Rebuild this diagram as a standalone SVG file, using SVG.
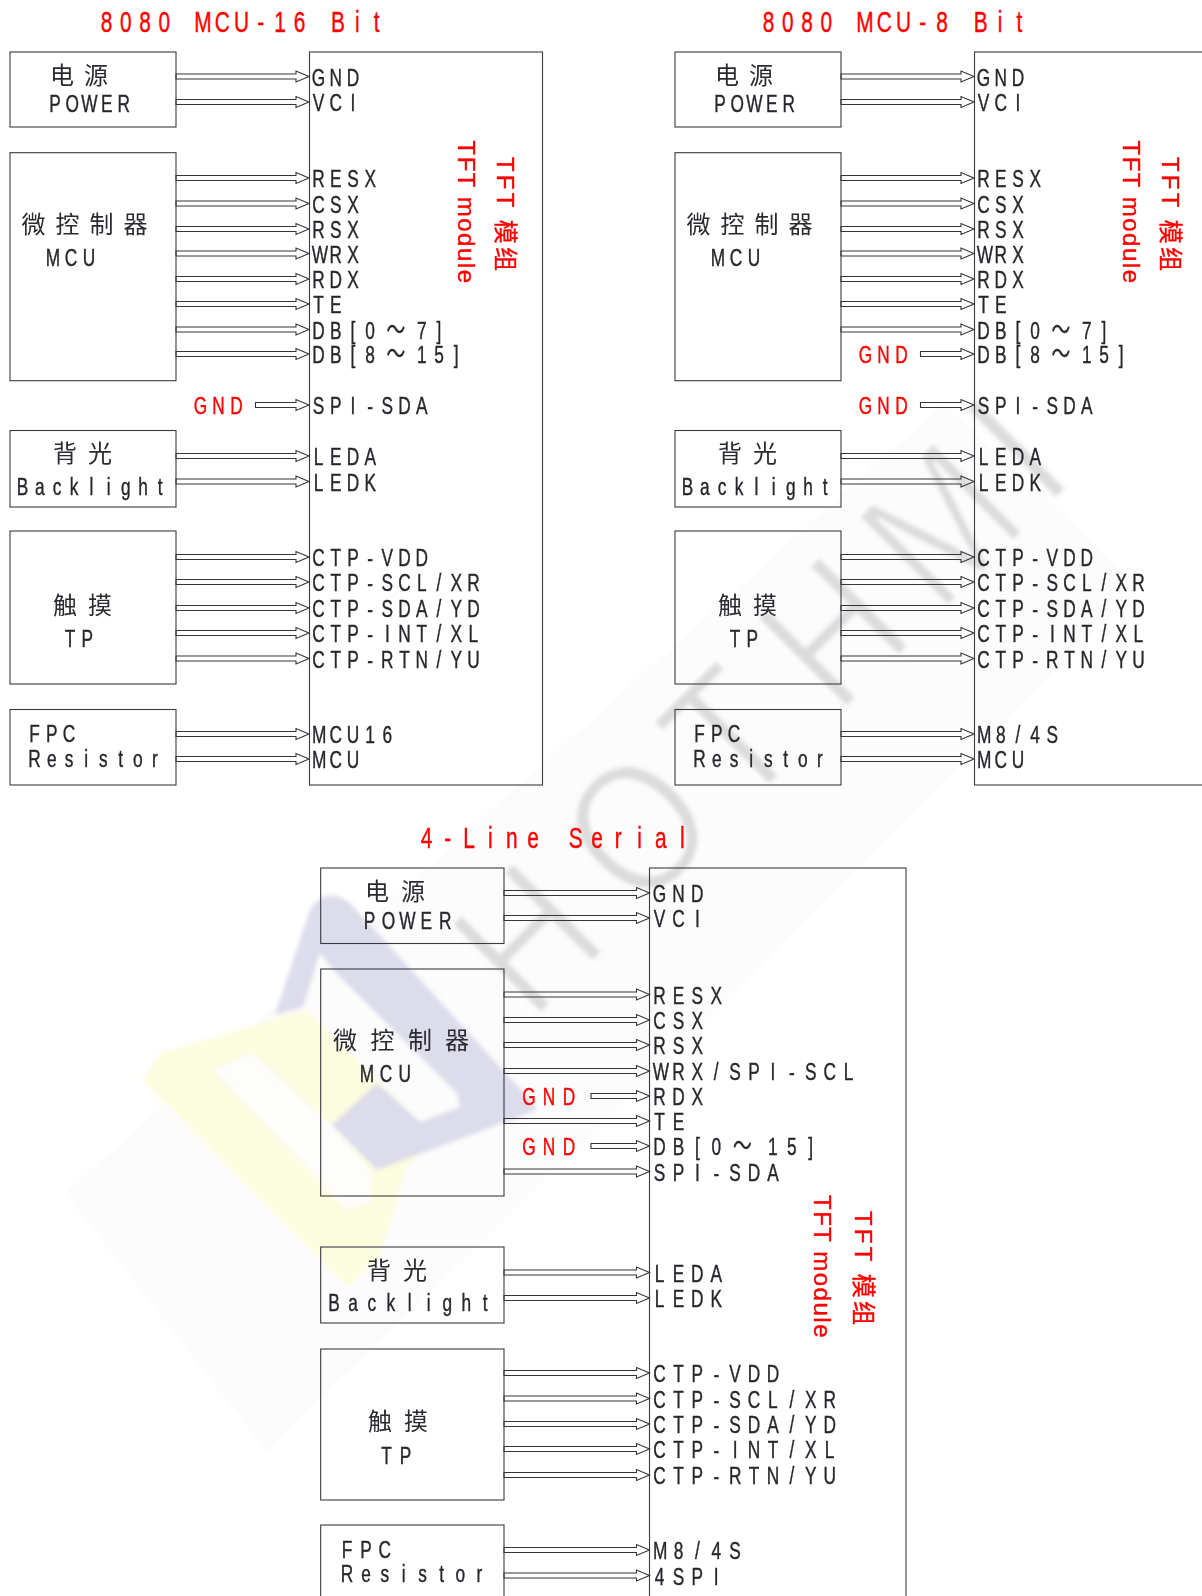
<svg xmlns="http://www.w3.org/2000/svg" width="1202" height="1596" viewBox="0 0 1202 1596">
<defs><filter id="soft" x="-5%" y="-5%" width="110%" height="110%"><feGaussianBlur stdDeviation="2"/></filter></defs>
<style>
.box{fill:none;stroke:#3a3a42;stroke-width:1.1}
.arr{fill:none;stroke:#34343a;stroke-width:1.1}
text{font-family:"Liberation Sans","Noto Sans CJK SC",sans-serif;font-size:24px;fill:#26262c;stroke:#26262c;stroke-width:.4;text-anchor:middle}
.cn{font-family:"Noto Sans CJK SC",sans-serif;font-size:24px;text-anchor:start;fill:#2a2a30;stroke:none}
.red{fill:#ff0000;stroke:#ff0000}
.title{font-size:29px;fill:#ff0000;stroke:#ff0000}
.side{font-size:24px;fill:#ff0000;stroke:#ff0000;text-anchor:start}
.wm{font-size:185px;fill:#dcdcdc;stroke:#fcfcfd;stroke-width:3.5px}
.t{font-size:26px}
</style>
<rect width="1202" height="1596" fill="#ffffff"/>
<g id="watermark">
<polygon points="65,1193 943,403 1142,587 268,1453" fill="#fcfcfd"/>
<g filter="url(#soft)">
<text class="wm" transform="translate(777.500,777.500) rotate(-45) scale(.85,1)" x="-342 -158 -5 167 346 472">HOTHMI</text>
<path d="M143 1080 160 1053 307 1010 420 1122 460 1107 407 1167 380 1257 347 1287Z" fill="#fcfcdf"/>
<path d="M213 1070 253 1053 300 1097 332 1125 373 1173 370 1203 347 1210Z" fill="#fdfdfb"/>
<path d="M275 1015 310 910Q325 885 350 903L533 1103 537 1110 377 1170 332 1125 377 1083 420 1122 460 1107 457 1093 333 970 320 953 303 1007Z" fill="#dcdcea"/>
</g>
</g>
<g id="connectors">
<path class="arr" d="M176 74h120v-3l13 5.5-13 5.5v-3h-120zM176 99.5h120v-3l13 5.5-13 5.5v-3h-120zM176 175.5h120v-3l13 5.5-13 5.5v-3h-120zM176 201h120v-3l13 5.5-13 5.5v-3h-120zM176 226.5h120v-3l13 5.5-13 5.5v-3h-120zM176 251h120v-3l13 5.5-13 5.5v-3h-120zM176 276.5h120v-3l13 5.5-13 5.5v-3h-120zM176 301.5h120v-3l13 5.5-13 5.5v-3h-120zM176 327h120v-3l13 5.5-13 5.5v-3h-120zM176 351.5h120v-3l13 5.5-13 5.5v-3h-120zM255.5 402.5h40.500v-3l13 5.5-13 5.5v-3h-40.500zM176 453.500h120v-3l13 5.5-13 5.5v-3h-120zM176 479h120v-3l13 5.5-13 5.5v-3h-120zM176 554.5h120v-3l13 5.5-13 5.5v-3h-120zM176 579.5h120v-3l13 5.5-13 5.5v-3h-120zM176 605.5h120v-3l13 5.5-13 5.5v-3h-120zM176 630.5h120v-3l13 5.5-13 5.5v-3h-120zM176 656h120v-3l13 5.5-13 5.5v-3h-120zM176 731.5h120v-3l13 5.5-13 5.5v-3h-120zM176 756.5h120v-3l13 5.5-13 5.5v-3h-120z"/>
<path class="arr" d="M841 74h120v-3l13 5.5-13 5.5v-3h-120zM841 99.5h120v-3l13 5.5-13 5.5v-3h-120zM841 175.5h120v-3l13 5.5-13 5.5v-3h-120zM841 201h120v-3l13 5.5-13 5.5v-3h-120zM841 226.5h120v-3l13 5.5-13 5.5v-3h-120zM841 251h120v-3l13 5.5-13 5.5v-3h-120zM841 276.5h120v-3l13 5.5-13 5.5v-3h-120zM841 301.5h120v-3l13 5.5-13 5.5v-3h-120zM841 327h120v-3l13 5.5-13 5.5v-3h-120zM920.5 351.5h40.500v-3l13 5.5-13 5.5v-3h-40.500zM920.5 402.5h40.500v-3l13 5.500-13 5.500v-3h-40.500zM841 453.500h120v-3l13 5.5-13 5.5v-3h-120zM841 479h120v-3l13 5.5-13 5.5v-3h-120zM841 554.5h120v-3l13 5.5-13 5.5v-3h-120zM841 579.5h120v-3l13 5.5-13 5.5v-3h-120zM841 605.5h120v-3l13 5.5-13 5.5v-3h-120zM841 630.5h120v-3l13 5.5-13 5.5v-3h-120zM841 656h120v-3l13 5.5-13 5.5v-3h-120zM841 731.5h120v-3l13 5.5-13 5.5v-3h-120zM841 756.5h120v-3l13 5.5-13 5.5v-3h-120z"/>
<path class="arr" d="M504 890.5h132.500v-3l13 5.5-13 5.5v-3h-132.500zM504 915.5h132.500v-3l13 5.5-13 5.5v-3h-132.500zM504 992h132.500v-3l13 5.5-13 5.5v-3h-132.500zM504 1017.500h132.500v-3l13 5.5-13 5.5v-3h-132.500zM504 1042.500h132.500v-3l13 5.5-13 5.5v-3h-132.500zM504 1068.500h132.500v-3l13 5.5-13 5.5v-3h-132.500zM591 1093.500h45.500v-3l13 5.5-13 5.5v-3h-45.500zM504 1118.500h132.500v-3l13 5.5-13 5.5v-3h-132.500zM591 1143.500h45.500v-3l13 5.5-13 5.5v-3h-45.500zM504 1169h132.500v-3l13 5.5-13 5.5v-3h-132.500zM504 1270h132.500v-3l13 5.5-13 5.5v-3h-132.500zM504 1295.500h132.500v-3l13 5.5-13 5.5v-3h-132.500zM504 1370.500h132.500v-3l13 5.5-13 5.5v-3h-132.500zM504 1396h132.500v-3l13 5.5-13 5.5v-3h-132.500zM504 1421.500h132.500v-3l13 5.5-13 5.5v-3h-132.500zM504 1446.500h132.500v-3l13 5.5-13 5.5v-3h-132.500zM504 1472.500h132.500v-3l13 5.5-13 5.5v-3h-132.500zM504 1547.500h132.500v-3l13 5.5-13 5.5v-3h-132.500zM504 1573h132.500v-3l13 5.5-13 5.5v-3h-132.500z"/>
</g>

<g id="titles">
<text class="title" transform="translate(100,31.500) scale(.72,1)" x="9 35.8 62.6 89.4 116.2 143 169.8 196.6 223.4 250.2 277 303.8 330.6 357.4 384.2">8080 MCU-16 Bit</text>
<text class="title" transform="translate(762,31.500) scale(.72,1)" x="9 35.8 62.6 89.4 116.2 143 169.8 196.6 223.4 250.2 277 303.8 330.6 357.4">8080 MCU-8 Bit</text>
<text class="title" transform="translate(420,847.500) scale(.72,1)" x="9 38.6 68.2 97.8 127.4 157 186.6 216.2 245.8 275.4 305 334.6 364.2">4-Line Serial</text>
</g>

<g id="p1-power"><rect class="box" x="10" y="52" width="166" height="75"/><text class="cn" x="50" y="83.5">电</text><text class="cn" x="84" y="83.5">源</text><text transform="translate(50,111.500) scale(.72,1)" x="7 30.9 54.8 78.7 102.6">POWER</text></g>
<g id="p1-mcu"><rect class="box" x="10" y="152.700" width="166" height="228"/><text class="cn" x="21.500" y="233">微</text><text class="cn" x="55.500" y="233">控</text><text class="cn" x="89.500" y="233">制</text><text class="cn" x="123.500" y="233">器</text><text transform="translate(48,266) scale(.72,1)" x="7 32 57">MCU</text></g>
<g id="p1-backlight"><rect class="box" x="10" y="430.500" width="166" height="76.500"/><text class="cn" x="53" y="462">背</text><text class="cn" x="88" y="462">光</text><text transform="translate(17.500,494.500) scale(.72,1)" x="7 30.9 54.8 78.7 102.6 126.500 150.400 174.300 198.200">Backlight</text></g>
<g id="p1-tp"><rect class="box" x="10" y="531" width="166" height="153"/><text class="cn" x="53" y="613.500">触</text><text class="cn" x="88" y="613.500">摸</text><text transform="translate(65,646.500) scale(.72,1)" x="7 30.9">TP</text></g>
<g id="p1-fpc"><rect class="box" x="10" y="709.500" width="166" height="75.500"/><text transform="translate(29.500,741.500) scale(.72,1)" x="7 30.9 54.8">FPC</text><text transform="translate(29.500,766.500) scale(.72,1)" x="7 30.9 54.8 78.7 102.6 126.500 150.400 174.300">Resistor</text></g>
<g id="p1-module"><rect class="box" x="309.500" y="52" width="233" height="733"/>
<text class="side" transform="translate(458,140.500) rotate(90)" textLength="142.500">TFT module</text><text class="side" transform="translate(496.500,157) rotate(90)" textLength="114">TFT 模组</text>
<g transform="translate(313.500,.7) scale(.72,1)">
<text y="85" x="7 30.9 54.8">GND</text><text y="110.500" x="7 30.9 54.8">VCI</text>
<text y="186.500" x="7 30.9 54.8 78.7">RESX</text><text y="212" x="7 30.9 54.8">CSX</text><text y="237.500" x="7 30.9 54.8">RSX</text><text y="262" x="9 30.9 54.8">WRX</text><text y="287.500" x="7 30.9 54.8">RDX</text><text y="312.500" x="7 30.9">TE</text>
<text y="338" x="7 30.9 54.8 78.7 114.500 150.400 174.300">DB[0<tspan class="t">～</tspan>7]</text><text y="362.500" x="7 30.9 54.8 78.7 114.500 150.400 174.300 198.200">DB[8<tspan class="t">～</tspan>15]</text>
<text y="413.500" x="7 30.9 54.8 78.7 102.6 126.500 150.400">SPI-SDA</text>
<text y="464.500" x="7 30.9 54.8 78.7">LEDA</text><text y="490" x="7 30.9 54.8 78.7">LEDK</text>
<text y="565.500" x="7 30.9 54.8 78.7 102.6 126.500 150.400">CTP-VDD</text><text y="590.500" x="7 30.9 54.8 78.7 102.6 126.500 150.400 174.300 198.200 222.100">CTP-SCL/XR</text><text y="616.500" x="7 30.9 54.8 78.7 102.6 126.500 150.400 174.300 198.200 222.100">CTP-SDA/YD</text><text y="641.500" x="7 30.9 54.8 78.7 102.6 126.500 150.400 174.300 198.200 222.100">CTP-INT/XL</text><text y="667" x="7 30.9 54.8 78.7 102.6 126.500 150.400 174.300 198.200 222.100">CTP-RTN/YU</text>
<text y="742.500" x="8 30.9 54.8 78.7 102.6">MCU16</text><text y="767.500" x="8 30.9 54.8">MCU</text>
</g>
<text class="red" transform="translate(195.500,413.500) scale(.72,1)" x="7 32 57">GND</text>
</g>

<g id="p2-power"><rect class="box" x="675" y="52" width="166" height="75"/><text class="cn" x="715" y="83.5">电</text><text class="cn" x="749" y="83.5">源</text><text transform="translate(715,111.500) scale(.72,1)" x="7 30.9 54.8 78.7 102.6">POWER</text></g>
<g id="p2-mcu"><rect class="box" x="675" y="152.700" width="166" height="228"/><text class="cn" x="686.500" y="233">微</text><text class="cn" x="720.500" y="233">控</text><text class="cn" x="754.500" y="233">制</text><text class="cn" x="788.500" y="233">器</text><text transform="translate(713,266) scale(.72,1)" x="7 32 57">MCU</text></g>
<g id="p2-backlight"><rect class="box" x="675" y="430.500" width="166" height="76.500"/><text class="cn" x="718" y="462">背</text><text class="cn" x="753" y="462">光</text><text transform="translate(682.500,494.500) scale(.72,1)" x="7 30.9 54.8 78.7 102.6 126.500 150.400 174.300 198.200">Backlight</text></g>
<g id="p2-tp"><rect class="box" x="675" y="531" width="166" height="153"/><text class="cn" x="718" y="613.500">触</text><text class="cn" x="753" y="613.500">摸</text><text transform="translate(730,646.500) scale(.72,1)" x="7 30.9">TP</text></g>
<g id="p2-fpc"><rect class="box" x="675" y="709.500" width="166" height="75.500"/><text transform="translate(694.500,741.500) scale(.72,1)" x="7 30.9 54.8">FPC</text><text transform="translate(694.500,766.500) scale(.72,1)" x="7 30.9 54.8 78.7 102.6 126.500 150.400 174.300">Resistor</text></g>
<g id="p2-module"><rect class="box" x="974.500" y="52" width="260" height="733"/>
<text class="side" transform="translate(1123,140.500) rotate(90)" textLength="142.500">TFT module</text><text class="side" transform="translate(1161.500,157) rotate(90)" textLength="114">TFT 模组</text>
<g transform="translate(978.500,.7) scale(.72,1)">
<text y="85" x="7 30.9 54.8">GND</text><text y="110.500" x="7 30.9 54.8">VCI</text>
<text y="186.500" x="7 30.9 54.8 78.7">RESX</text><text y="212" x="7 30.9 54.8">CSX</text><text y="237.500" x="7 30.9 54.8">RSX</text><text y="262" x="9 30.9 54.8">WRX</text><text y="287.500" x="7 30.9 54.8">RDX</text><text y="312.500" x="7 30.9">TE</text>
<text y="338" x="7 30.9 54.8 78.7 114.500 150.400 174.300">DB[0<tspan class="t">～</tspan>7]</text><text y="362.500" x="7 30.9 54.8 78.7 114.500 150.400 174.300 198.200">DB[8<tspan class="t">～</tspan>15]</text>
<text y="413.500" x="7 30.9 54.8 78.7 102.6 126.500 150.400">SPI-SDA</text>
<text y="464.500" x="7 30.9 54.8 78.7">LEDA</text><text y="490" x="7 30.9 54.8 78.7">LEDK</text>
<text y="565.500" x="7 30.9 54.8 78.7 102.6 126.500 150.400">CTP-VDD</text><text y="590.500" x="7 30.9 54.8 78.7 102.6 126.500 150.400 174.300 198.200 222.100">CTP-SCL/XR</text><text y="616.500" x="7 30.9 54.8 78.7 102.6 126.500 150.400 174.300 198.200 222.100">CTP-SDA/YD</text><text y="641.500" x="7 30.9 54.8 78.7 102.6 126.500 150.400 174.300 198.200 222.100">CTP-INT/XL</text><text y="667" x="7 30.9 54.8 78.7 102.6 126.500 150.400 174.300 198.200 222.100">CTP-RTN/YU</text>
<text y="742.500" x="8 30.9 54.8 78.7 102.6">M8/4S</text><text y="767.500" x="8 30.9 54.8">MCU</text>
</g>
<text class="red" transform="translate(860.500,362.500) scale(.72,1)" x="7 32 57">GND</text>
<text class="red" transform="translate(860.500,413.500) scale(.72,1)" x="7 32 57">GND</text>
</g>

<g id="p3-power"><rect class="box" x="320.700" y="868" width="183.300" height="75.500"/><text class="cn" x="365" y="899.500">电</text><text class="cn" x="401" y="899.500">源</text><text transform="translate(364.500,928.500) scale(.72,1)" x="7 33.300 59.500 85.800 112">POWER</text></g>
<g id="p3-mcu"><rect class="box" x="320.700" y="969" width="183.300" height="227"/><text class="cn" x="333" y="1048.500">微</text><text class="cn" x="370.500" y="1048.500">控</text><text class="cn" x="408" y="1048.500">制</text><text class="cn" x="445" y="1048.500">器</text><text transform="translate(362,1081.500) scale(.72,1)" x="7 33.300 59.500">MCU</text></g>
<g id="p3-backlight"><rect class="box" x="320.700" y="1247" width="183.300" height="76"/><text class="cn" x="367" y="1279">背</text><text class="cn" x="403" y="1279">光</text><text transform="translate(329,1310.500) scale(.72,1)" x="7 33.300 59.500 85.800 112 138.300 164.500 190.800 217">Backlight</text></g>
<g id="p3-tp"><rect class="box" x="320.700" y="1349" width="183.300" height="151"/><text class="cn" x="368" y="1430">触</text><text class="cn" x="404" y="1430">摸</text><text transform="translate(381.500,1463.500) scale(.72,1)" x="7 33.300">TP</text></g>
<g id="p3-fpc"><rect class="box" x="320.700" y="1525" width="183.300" height="90"/><text transform="translate(342,1557.500) scale(.72,1)" x="7 33.300 59.500">FPC</text><text transform="translate(342,1581.500) scale(.72,1)" x="7 33.300 59.500 85.800 112 138.300 164.500 190.800">Resistor</text></g>
<g id="p3-module"><rect class="box" x="649.500" y="868" width="256.500" height="760"/>
<text class="side" transform="translate(814,1195) rotate(90)" textLength="142.500">TFT module</text><text class="side" transform="translate(855,1211) rotate(90)" textLength="114">TFT 模组</text>
<g transform="translate(654.500,.7) scale(.72,1)">
<text y="901.500" x="7 33.300 59.500">GND</text><text y="926.500" x="7 33.300 59.500">VCI</text>
<text y="1003" x="7 33.300 59.500 85.800">RESX</text><text y="1028.500" x="7 33.300 59.500">CSX</text><text y="1053.500" x="7 33.300 59.500">RSX</text><text y="1079.500" x="9 33.300 59.500 85.800 112 138.300 164.500 190.800 217 243.300 269.500">WRX/SPI-SCL</text><text y="1104.500" x="7 33.300 59.500">RDX</text><text y="1129.500" x="7 33.300">TE</text>
<text y="1154.500" x="7 33.300 59.500 85.800 122 164.500 190.800 217">DB[0<tspan class="t">～</tspan>15]</text><text y="1180" x="7 33.300 59.500 85.800 112 138.300 164.500">SPI-SDA</text>
<text y="1281" x="7 33.300 59.500 85.800">LEDA</text><text y="1306.500" x="7 33.300 59.500 85.800">LEDK</text>
<text y="1381.500" x="7 33.300 59.500 85.800 112 138.300 164.500">CTP-VDD</text><text y="1407" x="7 33.300 59.500 85.800 112 138.300 164.500 190.800 217 243.300">CTP-SCL/XR</text><text y="1432.500" x="7 33.300 59.500 85.800 112 138.300 164.500 190.800 217 243.300">CTP-SDA/YD</text><text y="1457.500" x="7 33.300 59.500 85.800 112 138.300 164.500 190.800 217 243.300">CTP-INT/XL</text><text y="1483.500" x="7 33.300 59.500 85.800 112 138.300 164.500 190.800 217 243.300">CTP-RTN/YU</text>
<text y="1558.500" x="8 33.300 59.500 85.800 112">M8/4S</text><text y="1584" x="7 33.300 59.500 85.800">4SPI</text>
</g>
<text class="red" transform="translate(524,1104.500) scale(.72,1)" x="7 34.800 62.600">GND</text>
<text class="red" transform="translate(524,1154.500) scale(.72,1)" x="7 34.800 62.600">GND</text>
</g>
</svg>
